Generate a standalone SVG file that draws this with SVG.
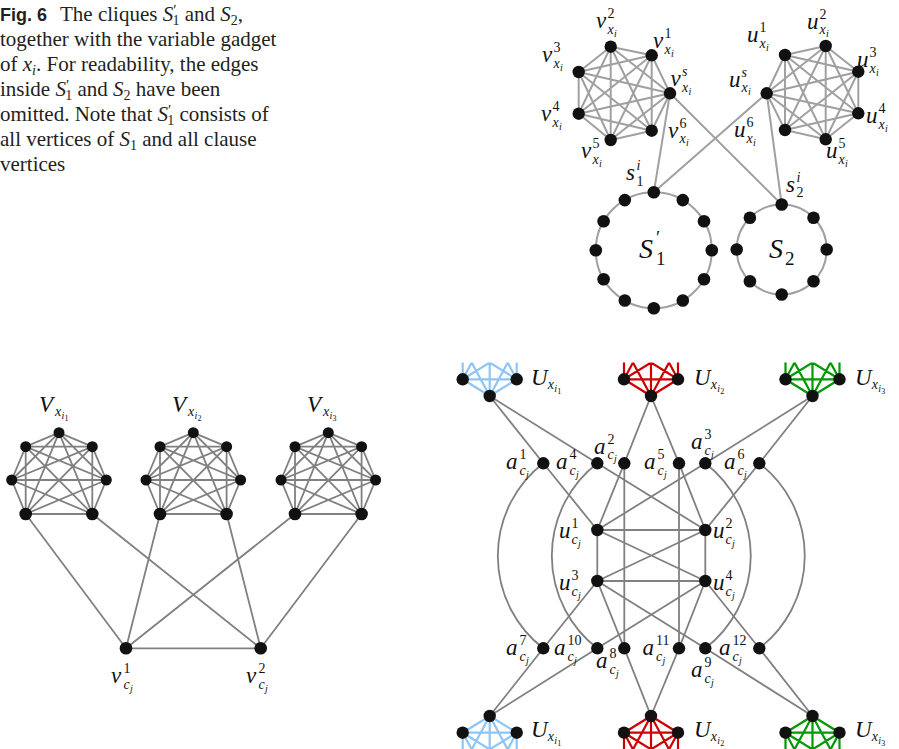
<svg xmlns="http://www.w3.org/2000/svg" width="899" height="749" viewBox="0 0 899 749">
<style>
.cap{font-family:"Liberation Serif",serif;font-size:21px;fill:#231f20}
.fig{font-family:"Liberation Sans",sans-serif;font-weight:bold;font-size:18px}
.i{font-style:italic}
.cs{font-size:14px}
.pr{font-size:15px}
.m{font-family:"Liberation Serif",serif;font-style:italic;font-size:23px;fill:#111}
.big{font-family:"Liberation Serif",serif;font-style:italic;font-size:28px;fill:#111}
.s{font-size:14px}
.s2{font-size:19px}
.ss{font-size:10px}
.sss{font-size:8px}
.d{font-style:normal}
.ltg{fill:none;stroke:#a0a0a0;stroke-width:2}
.g{fill:none;stroke:#808080;stroke-width:1.8}
.nd{fill:#111}
.blue{stroke:#8ec5f7;stroke-width:2.2;fill:none}
.red{stroke:#cc0000;stroke-width:2.2;fill:none}
.green{stroke:#009a00;stroke-width:2.2;fill:none}
</style>
<defs>
<path id="k7" d="M0,432.7L-33.3,446.7M0,432.7L33.3,446.7M0,432.7L-47.3,480M0,432.7L47.3,480M0,432.7L-33.3,514M0,432.7L33.3,514M-33.3,446.7L33.3,446.7M-33.3,446.7L-47.3,480M-33.3,446.7L47.3,480M-33.3,446.7L-33.3,514M-33.3,446.7L33.3,514M33.3,446.7L-47.3,480M33.3,446.7L47.3,480M33.3,446.7L-33.3,514M33.3,446.7L33.3,514M-47.3,480L47.3,480M-47.3,480L-33.3,514M-47.3,480L33.3,514M47.3,480L-33.3,514M47.3,480L33.3,514M-33.3,514L33.3,514"/>
<path id="k6" d="M0,33.4L-27,16.7M0,33.4L27,16.7M0,33.4L-27,-16.7M0,33.4L27,-16.7M0,33.4L0,-33.4M-27,16.7L27,16.7M-27,16.7L-27,-16.7M-27,16.7L27,-16.7M-27,16.7L0,-33.4M27,16.7L-27,-16.7M27,16.7L27,-16.7M27,16.7L0,-33.4M-27,-16.7L27,-16.7M-27,-16.7L0,-33.4M27,-16.7L0,-33.4"/>
<clipPath id="ctop"><rect x="440" y="362.6" width="459" height="80"/></clipPath>
</defs>

<g id="caption" class="cap">
<text x="0" y="21"><tspan class="fig">Fig. 6</tspan><tspan x="60">The cliques </tspan><tspan class="i">S</tspan><tspan dy="-6" class="pr">′</tspan><tspan dx="-4" dy="9.5" class="cs">1</tspan><tspan dy="-3.5"> and </tspan><tspan class="i">S</tspan><tspan dy="3.5" class="cs">2</tspan><tspan dy="-3.5">,</tspan></text>
<text x="0" y="46">together with the variable gadget</text>
<text x="0" y="71">of <tspan class="i">x</tspan><tspan class="i cs" dy="3.5">i</tspan><tspan dy="-3.5">. For readability, the edges</tspan></text>
<text x="0" y="96">inside <tspan class="i">S</tspan><tspan dy="-6" class="pr">′</tspan><tspan dx="-4" dy="9.5" class="cs">1</tspan><tspan dy="-3.5"> and </tspan><tspan class="i">S</tspan><tspan dy="3.5" class="cs">2</tspan><tspan dy="-3.5"> have been</tspan></text>
<text x="0" y="121">omitted. Note that <tspan class="i">S</tspan><tspan dy="-6" class="pr">′</tspan><tspan dx="-4" dy="9.5" class="cs">1</tspan><tspan dy="-3.5"> consists of</tspan></text>
<text x="0" y="146">all vertices of <tspan class="i">S</tspan><tspan dy="3.5" class="cs">1</tspan><tspan dy="-3.5"> and all clause</tspan></text>
<text x="0" y="171">vertices</text>
</g>

<g id="connectors">
<path class="ltg" d="M610.7,46.7L651.7,55.3M610.7,46.7L670,93.3M610.7,46.7L651.7,130.7M610.7,46.7L610.7,140M610.7,46.7L578.7,113.7M610.7,46.7L578.7,72M651.7,55.3L670,93.3M651.7,55.3L651.7,130.7M651.7,55.3L610.7,140M651.7,55.3L578.7,113.7M651.7,55.3L578.7,72M670,93.3L651.7,130.7M670,93.3L610.7,140M670,93.3L578.7,113.7M670,93.3L578.7,72M651.7,130.7L610.7,140M651.7,130.7L578.7,113.7M651.7,130.7L578.7,72M610.7,140L578.7,113.7M610.7,140L578.7,72M578.7,113.7L578.7,72"/>
<path class="ltg" d="M825.7,46L785,55M825.7,46L766.7,93.3M825.7,46L785,130M825.7,46L825.7,139.3M825.7,46L858.3,113.3M825.7,46L858.3,71.7M785,55L766.7,93.3M785,55L785,130M785,55L825.7,139.3M785,55L858.3,113.3M785,55L858.3,71.7M766.7,93.3L785,130M766.7,93.3L825.7,139.3M766.7,93.3L858.3,113.3M766.7,93.3L858.3,71.7M785,130L825.7,139.3M785,130L858.3,113.3M785,130L858.3,71.7M825.7,139.3L858.3,113.3M825.7,139.3L858.3,71.7M858.3,113.3L858.3,71.7"/>
<path class="ltg" d="M670,93.3L653.8,192.3M670,93.3L781.7,204.5M766.7,93.3L653.8,192.3M766.7,93.3L781.7,204.5"/>
<circle class="ltg" cx="653.8" cy="250.3" r="58"/>
<circle class="ltg" cx="781.7" cy="249.5" r="45"/>
<use href="#k7" class="g" transform="translate(59,0)"/>
<use href="#k7" class="g" transform="translate(193.3,0)"/>
<use href="#k7" class="g" transform="translate(328.3,0)"/>
<path class="g" d="M25.7,514L126,648.3M92.3,514L260.7,648.3M160,514L126,648.3M226.6,514L260.7,648.3M295,514L126,648.3M361.6,514L260.7,648.3M126,648.3L260.7,648.3"/>
<g clip-path="url(#ctop)">
<use href="#k6" class="blue" transform="translate(489.7,362.6)"/>
<use href="#k6" class="red" transform="translate(651,362.6)"/>
<use href="#k6" class="green" transform="translate(812.5,362.6)"/>
</g>
<use href="#k6" class="blue" transform="translate(489.7,749.4)"/>
<use href="#k6" class="red" transform="translate(651,749.4)"/>
<use href="#k6" class="green" transform="translate(812.5,749.4)"/>
<path class="g" d="M489.7,396L543.3,463.3L597.3,530M489.7,396L597.3,463.3L705.3,530M651,396L624.3,463.3L597.3,530M651,396L679,463.3L705.3,530M812.5,396L705.3,463.3L597.3,530M812.5,396L759.3,463.3L705.3,530M489.7,716L543.3,648.3L597.3,581M489.7,716L597.3,648.3L705.3,581M651,716L624.3,648.3L597.3,581M651,716L679,648.3L705.3,581M812.5,716L705.3,648.3L597.3,581M812.5,716L759.3,648.3L705.3,581M624.3,463.3L624.3,648.3M679,463.3L679,648.3M597.3,530L705.3,530M597.3,581L705.3,581M597.3,530L597.3,581M705.3,530L705.3,581M597.3,530L705.3,581M705.3,530L597.3,581"/>
<path class="g" d="M543.3,463.3A116.8,116.8 0 0 0 543.3,648.3M597.3,463.3A116.8,116.8 0 0 0 597.3,648.3M705.3,463.3A116.8,116.8 0 0 1 705.3,648.3M759.3,463.3A116.8,116.8 0 0 1 759.3,648.3"/>
</g>

<g id="clique-v-xi" class="nd">
<circle cx="610.7" cy="46.7" r="6.2"/><circle cx="651.7" cy="55.3" r="6.2"/><circle cx="670" cy="93.3" r="6.2"/><circle cx="651.7" cy="130.7" r="6.2"/><circle cx="610.7" cy="140" r="6.2"/><circle cx="578.7" cy="113.7" r="6.2"/><circle cx="578.7" cy="72" r="6.2"/>
<text class="m" x="596" y="28">v<tspan class="s d" x="607.5" y="18">2</tspan><tspan class="s" x="607.5" y="33.5">x</tspan><tspan class="ss" x="614" y="36.5">i</tspan></text>
<text class="m" x="653" y="48">v<tspan class="s d" x="664.5" y="38">1</tspan><tspan class="s" x="664.5" y="53.5">x</tspan><tspan class="ss" x="671" y="56.5">i</tspan></text>
<text class="m" x="542" y="62">v<tspan class="s d" x="553.5" y="52">3</tspan><tspan class="s" x="553.5" y="67.5">x</tspan><tspan class="ss" x="560" y="70.5">i</tspan></text>
<text class="m" x="670.5" y="86">v<tspan class="s" x="682" y="76">s</tspan><tspan class="s" x="682" y="91.5">x</tspan><tspan class="ss" x="688.5" y="94.5">i</tspan></text>
<text class="m" x="541" y="121">v<tspan class="s d" x="552.5" y="111">4</tspan><tspan class="s" x="552.5" y="126.5">x</tspan><tspan class="ss" x="559" y="129.5">i</tspan></text>
<text class="m" x="668" y="137.5">v<tspan class="s d" x="679.5" y="127.5">6</tspan><tspan class="s" x="679.5" y="143">x</tspan><tspan class="ss" x="686" y="146">i</tspan></text>
<text class="m" x="581" y="158">v<tspan class="s d" x="592.5" y="148">5</tspan><tspan class="s" x="592.5" y="163.5">x</tspan><tspan class="ss" x="599" y="166.5">i</tspan></text>
</g>

<g id="clique-u-xi" class="nd">
<circle cx="825.7" cy="46" r="6.2"/><circle cx="785" cy="55" r="6.2"/><circle cx="766.7" cy="93.3" r="6.2"/><circle cx="785" cy="130" r="6.2"/><circle cx="825.7" cy="139.3" r="6.2"/><circle cx="858.3" cy="113.3" r="6.2"/><circle cx="858.3" cy="71.7" r="6.2"/>
<text class="m" x="747" y="42">u<tspan class="s d" x="759.5" y="32">1</tspan><tspan class="s" x="759.5" y="47.5">x</tspan><tspan class="ss" x="766" y="50.5">i</tspan></text>
<text class="m" x="807" y="28.5">u<tspan class="s d" x="819.5" y="18.5">2</tspan><tspan class="s" x="819.5" y="34">x</tspan><tspan class="ss" x="826" y="37">i</tspan></text>
<text class="m" x="857" y="67">u<tspan class="s d" x="869.5" y="57">3</tspan><tspan class="s" x="869.5" y="72.5">x</tspan><tspan class="ss" x="876" y="75.5">i</tspan></text>
<text class="m" x="729" y="86.5">u<tspan class="s" x="741.5" y="76.5">s</tspan><tspan class="s" x="741.5" y="92">x</tspan><tspan class="ss" x="748" y="95">i</tspan></text>
<text class="m" x="866" y="123">u<tspan class="s d" x="878.5" y="113">4</tspan><tspan class="s" x="878.5" y="128.5">x</tspan><tspan class="ss" x="885" y="131.5">i</tspan></text>
<text class="m" x="734" y="137">u<tspan class="s d" x="746.5" y="127">6</tspan><tspan class="s" x="746.5" y="142.5">x</tspan><tspan class="ss" x="753" y="145.5">i</tspan></text>
<text class="m" x="826" y="158">u<tspan class="s d" x="838.5" y="148">5</tspan><tspan class="s" x="838.5" y="163.5">x</tspan><tspan class="ss" x="845" y="166.5">i</tspan></text>
</g>

<g id="S1prime" class="nd">
<circle cx="653.8" cy="192.3" r="6.3"/><circle cx="682.8" cy="200.1" r="6.3"/><circle cx="704" cy="221.3" r="6.3"/><circle cx="711.8" cy="250.3" r="6.3"/><circle cx="704" cy="279.3" r="6.3"/><circle cx="682.8" cy="300.5" r="6.3"/><circle cx="653.8" cy="308.3" r="6.3"/><circle cx="624.8" cy="300.5" r="6.3"/><circle cx="603.6" cy="279.3" r="6.3"/><circle cx="595.8" cy="250.3" r="6.3"/><circle cx="603.6" cy="221.3" r="6.3"/><circle cx="624.8" cy="200.1" r="6.3"/>
<text class="big" x="639" y="258">S<tspan class="s2 d" x="656" y="244">′</tspan><tspan class="s2 d" x="656" y="265">1</tspan></text>
<text class="m" x="626" y="180">s<tspan class="s" x="636.5" y="170">i</tspan><tspan class="s d" x="636.5" y="185.5">1</tspan></text>
</g>

<g id="S2" class="nd">
<circle cx="781.7" cy="204.5" r="6.3"/><circle cx="813.5" cy="217.7" r="6.3"/><circle cx="826.7" cy="249.5" r="6.3"/><circle cx="813.5" cy="281.3" r="6.3"/><circle cx="781.7" cy="294.5" r="6.3"/><circle cx="749.9" cy="281.3" r="6.3"/><circle cx="736.7" cy="249.5" r="6.3"/><circle cx="749.9" cy="217.7" r="6.3"/>
<text class="big" x="769" y="258">S<tspan class="s2 d" x="785" y="265">2</tspan></text>
<text class="m" x="786" y="191.7">s<tspan class="s" x="796.5" y="181.7">i</tspan><tspan class="s d" x="796.5" y="197.2">2</tspan></text>
</g>

<g id="V-xi1" class="nd">
<circle cx="59" cy="432.7" r="5.5"/><circle cx="25.7" cy="446.7" r="5.5"/><circle cx="92.3" cy="446.7" r="5.5"/><circle cx="11.7" cy="480" r="5.5"/><circle cx="106.3" cy="480" r="5.5"/><circle cx="25.7" cy="514" r="6.3"/><circle cx="92.3" cy="514" r="6.3"/>
<text class="m" x="39" y="412">V<tspan class="s" x="55" y="415.5">x</tspan><tspan class="ss" x="61.5" y="418.5">i</tspan><tspan class="sss d" x="64.5" y="421">1</tspan></text>
</g>
<g id="V-xi2" class="nd">
<circle cx="193.3" cy="432.7" r="5.5"/><circle cx="160" cy="446.7" r="5.5"/><circle cx="226.6" cy="446.7" r="5.5"/><circle cx="146" cy="480" r="5.5"/><circle cx="240.6" cy="480" r="5.5"/><circle cx="160" cy="514" r="6.3"/><circle cx="226.6" cy="514" r="6.3"/>
<text class="m" x="172" y="412">V<tspan class="s" x="188" y="415.5">x</tspan><tspan class="ss" x="194.5" y="418.5">i</tspan><tspan class="sss d" x="197.5" y="421">2</tspan></text>
</g>
<g id="V-xi3" class="nd">
<circle cx="328.3" cy="432.7" r="5.5"/><circle cx="295" cy="446.7" r="5.5"/><circle cx="361.6" cy="446.7" r="5.5"/><circle cx="281" cy="480" r="5.5"/><circle cx="375.6" cy="480" r="5.5"/><circle cx="295" cy="514" r="6.3"/><circle cx="361.6" cy="514" r="6.3"/>
<text class="m" x="307" y="412">V<tspan class="s" x="323" y="415.5">x</tspan><tspan class="ss" x="329.5" y="418.5">i</tspan><tspan class="sss d" x="332.5" y="421">3</tspan></text>
</g>
<g id="v-cj-1" class="nd"><circle cx="126" cy="648.3" r="6.3"/>
<text class="m" x="111" y="683">v<tspan class="s d" x="123.5" y="673">1</tspan><tspan class="s" x="123.5" y="688.5">c</tspan><tspan class="ss" x="130" y="691.5">j</tspan></text></g>
<g id="v-cj-2" class="nd"><circle cx="260.7" cy="648.3" r="6.3"/>
<text class="m" x="246" y="683">v<tspan class="s d" x="258.5" y="673">2</tspan><tspan class="s" x="258.5" y="688.5">c</tspan><tspan class="ss" x="265" y="691.5">j</tspan></text></g>

<g id="U-top" class="nd">
<circle cx="462.7" cy="379.3" r="6.2"/><circle cx="516.7" cy="379.3" r="6.2"/><circle cx="489.7" cy="396" r="6.2"/>
<circle cx="624" cy="379.3" r="6.2"/><circle cx="678" cy="379.3" r="6.2"/><circle cx="651" cy="396" r="6.2"/>
<circle cx="785.5" cy="379.3" r="6.2"/><circle cx="839.5" cy="379.3" r="6.2"/><circle cx="812.5" cy="396" r="6.2"/>
<text class="m" x="531" y="385">U<tspan class="s" x="547.7" y="388.5">x</tspan><tspan class="ss" x="554.2" y="391.5">i</tspan><tspan class="sss d" x="557.2" y="394">1</tspan></text>
<text class="m" x="694" y="385">U<tspan class="s" x="710.7" y="388.5">x</tspan><tspan class="ss" x="717.2" y="391.5">i</tspan><tspan class="sss d" x="720.2" y="394">2</tspan></text>
<text class="m" x="855" y="385">U<tspan class="s" x="871.7" y="388.5">x</tspan><tspan class="ss" x="878.2" y="391.5">i</tspan><tspan class="sss d" x="881.2" y="394">3</tspan></text>
</g>
<g id="U-bottom" class="nd">
<circle cx="462.7" cy="732.7" r="6.2"/><circle cx="516.7" cy="732.7" r="6.2"/><circle cx="489.7" cy="716" r="6.2"/>
<circle cx="624" cy="732.7" r="6.2"/><circle cx="678" cy="732.7" r="6.2"/><circle cx="651" cy="716" r="6.2"/>
<circle cx="785.5" cy="732.7" r="6.2"/><circle cx="839.5" cy="732.7" r="6.2"/><circle cx="812.5" cy="716" r="6.2"/>
<text class="m" x="531" y="737">U<tspan class="s" x="547.7" y="740.5">x</tspan><tspan class="ss" x="554.2" y="743.5">i</tspan><tspan class="sss d" x="557.2" y="746">1</tspan></text>
<text class="m" x="694" y="737">U<tspan class="s" x="710.7" y="740.5">x</tspan><tspan class="ss" x="717.2" y="743.5">i</tspan><tspan class="sss d" x="720.2" y="746">2</tspan></text>
<text class="m" x="855" y="737">U<tspan class="s" x="871.7" y="740.5">x</tspan><tspan class="ss" x="878.2" y="743.5">i</tspan><tspan class="sss d" x="881.2" y="746">3</tspan></text>
</g>

<g id="a-top" class="nd">
<circle cx="543.3" cy="463.3" r="6.2"/><circle cx="597.3" cy="463.3" r="6.2"/><circle cx="624.3" cy="463.3" r="6.2"/><circle cx="679" cy="463.3" r="6.2"/><circle cx="705.3" cy="463.3" r="6.2"/><circle cx="759.3" cy="463.3" r="6.2"/>
<text class="m" x="506" y="469">a<tspan class="s d" x="519.5" y="459">1</tspan><tspan class="s" x="519.5" y="474.5">c</tspan><tspan class="ss" x="526" y="477.5">j</tspan></text>
<text class="m" x="556" y="469">a<tspan class="s d" x="569.5" y="459">4</tspan><tspan class="s" x="569.5" y="474.5">c</tspan><tspan class="ss" x="576" y="477.5">j</tspan></text>
<text class="m" x="594" y="453.5">a<tspan class="s d" x="607.5" y="443.5">2</tspan><tspan class="s" x="607.5" y="459">c</tspan><tspan class="ss" x="614" y="462">j</tspan></text>
<text class="m" x="644" y="469">a<tspan class="s d" x="657.5" y="459">5</tspan><tspan class="s" x="657.5" y="474.5">c</tspan><tspan class="ss" x="664" y="477.5">j</tspan></text>
<text class="m" x="691" y="449">a<tspan class="s d" x="704.5" y="439">3</tspan><tspan class="s" x="704.5" y="454.5">c</tspan><tspan class="ss" x="711" y="457.5">j</tspan></text>
<text class="m" x="724" y="469">a<tspan class="s d" x="737.5" y="459">6</tspan><tspan class="s" x="737.5" y="474.5">c</tspan><tspan class="ss" x="744" y="477.5">j</tspan></text>
</g>
<g id="u-cj" class="nd">
<circle cx="597.3" cy="530" r="6.2"/><circle cx="705.3" cy="530" r="6.2"/><circle cx="597.3" cy="581" r="6.2"/><circle cx="705.3" cy="581" r="6.2"/>
<text class="m" x="559" y="538">u<tspan class="s d" x="571.5" y="528">1</tspan><tspan class="s" x="571.5" y="543.5">c</tspan><tspan class="ss" x="578" y="546.5">j</tspan></text>
<text class="m" x="713" y="538">u<tspan class="s d" x="725.5" y="528">2</tspan><tspan class="s" x="725.5" y="543.5">c</tspan><tspan class="ss" x="732" y="546.5">j</tspan></text>
<text class="m" x="559" y="590">u<tspan class="s d" x="571.5" y="580">3</tspan><tspan class="s" x="571.5" y="595.5">c</tspan><tspan class="ss" x="578" y="598.5">j</tspan></text>
<text class="m" x="713" y="590">u<tspan class="s d" x="725.5" y="580">4</tspan><tspan class="s" x="725.5" y="595.5">c</tspan><tspan class="ss" x="732" y="598.5">j</tspan></text>
</g>
<g id="a-bottom" class="nd">
<circle cx="543.3" cy="648.3" r="6.2"/><circle cx="597.3" cy="648.3" r="6.2"/><circle cx="624.3" cy="648.3" r="6.2"/><circle cx="679" cy="648.3" r="6.2"/><circle cx="705.3" cy="648.3" r="6.2"/><circle cx="759.3" cy="648.3" r="6.2"/>
<text class="m" x="506" y="655">a<tspan class="s d" x="519.5" y="645">7</tspan><tspan class="s" x="519.5" y="660.5">c</tspan><tspan class="ss" x="526" y="663.5">j</tspan></text>
<text class="m" x="554" y="655">a<tspan class="s d" x="567.5" y="645">10</tspan><tspan class="s" x="567.5" y="660.5">c</tspan><tspan class="ss" x="574" y="663.5">j</tspan></text>
<text class="m" x="596" y="668">a<tspan class="s d" x="609.5" y="658">8</tspan><tspan class="s" x="609.5" y="673.5">c</tspan><tspan class="ss" x="616" y="676.5">j</tspan></text>
<text class="m" x="642.5" y="655">a<tspan class="s d" x="656" y="645">11</tspan><tspan class="s" x="656" y="660.5">c</tspan><tspan class="ss" x="662.5" y="663.5">j</tspan></text>
<text class="m" x="691" y="677">a<tspan class="s d" x="704.5" y="667">9</tspan><tspan class="s" x="704.5" y="682.5">c</tspan><tspan class="ss" x="711" y="685.5">j</tspan></text>
<text class="m" x="719" y="655">a<tspan class="s d" x="732.5" y="645">12</tspan><tspan class="s" x="732.5" y="660.5">c</tspan><tspan class="ss" x="739" y="663.5">j</tspan></text>
</g>
</svg>
